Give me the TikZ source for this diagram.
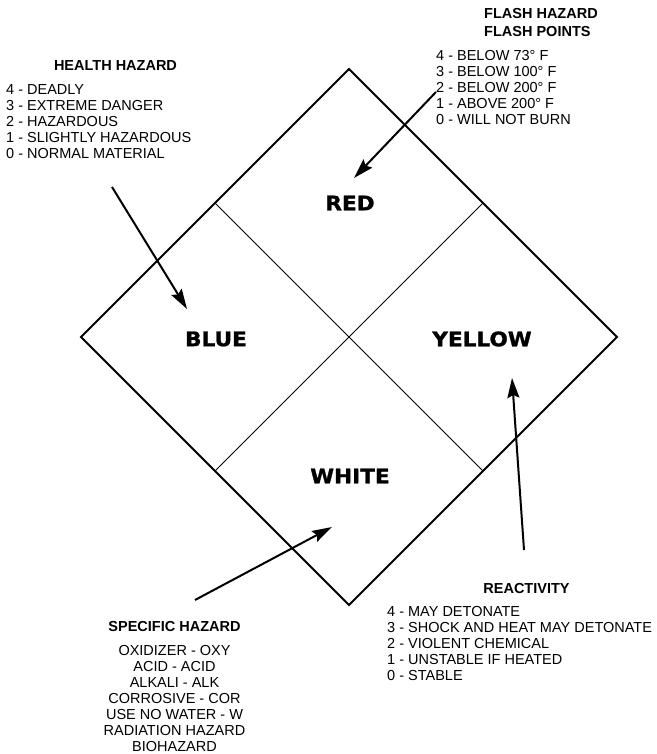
\documentclass[tikz,border=0pt]{standalone}
\usepackage{fontspec}
\setmainfont{Liberation Sans}
\newfontfamily\heavyfont{DejaVu Sans}[BoldFeatures={FakeStretch=1.08,FakeBold=1.2}]
\usetikzlibrary{arrows.meta,calc}
\tikzset{
  hzhead/.style={font=\fontsize{14.5}{16}\selectfont\bfseries, inner sep=0pt},
  hzline/.style={font=\fontsize{14.5}{16}\selectfont, inner sep=0pt},
  colourtag/.style={font=\heavyfont\bfseries\fontsize{20}{22}\selectfont, inner sep=0pt},
  pointer/.style={line width=2pt, -{Stealth[length=20pt,width=12pt,inset=3pt]}},
}
\begin{document}
\begin{tikzpicture}[x=1pt,y=1pt]
\path[use as bounding box] (0,0) rectangle (656,754);
% diamond
\coordinate (top) at (349,685);
\coordinate (lft) at (81,417);
\coordinate (rgt) at (617,417);
\coordinate (bot) at (349,149);
\coordinate (mtl) at ($(top)!0.5!(lft)$);
\coordinate (mtr) at ($(top)!0.5!(rgt)$);
\coordinate (mbl) at ($(bot)!0.5!(lft)$);
\coordinate (mbr) at ($(bot)!0.5!(rgt)$);
\draw[line width=1pt] (mtl) -- (mbr);
\draw[line width=1pt] (mtr) -- (mbl);
\draw[line width=2pt, line join=miter] (top) -- (rgt) -- (bot) -- (lft) -- cycle;
% colour fields
\node[colourtag] (red) at (350,551) {RED};
\node[colourtag] (blue) at (216,415) {BLUE};
\node[colourtag] (yellow) at (482,415) {YELLOW};
\node[colourtag] (white) at (350,278) {WHITE};
% health
\node[hzhead, anchor=base] (healthhead) at (115.5,683) {HEALTH HAZARD};
\foreach \txt [count=\i] in {4 - DEADLY, 3 - EXTREME DANGER, 2 - HAZARDOUS,
    1 - SLIGHTLY HAZARDOUS, 0 - NORMAL MATERIAL}
  \node[hzline, anchor=base west] (health\i) at (6,{675-16*\i}) {\txt};
% flash
\node[hzhead, anchor=base west] (flashhead) at (484,735) {FLASH HAZARD};
\node[hzhead, anchor=base west] (flashsub) at (484,717.5) {FLASH POINTS};
\foreach \txt [count=\i] in {4 - BELOW 73° F, 3 - BELOW 100° F, 2 - BELOW 200° F,
    1 - ABOVE 200° F, 0 - WILL NOT BURN}
  \node[hzline, anchor=base west] (flash\i) at (436,{709-16*\i}) {\txt};
% reactivity
\node[hzhead, anchor=base] (reacthead) at (526.5,160) {REACTIVITY};
\foreach \txt [count=\i] in {4 - MAY DETONATE, 3 - SHOCK AND HEAT MAY DETONATE,
    2 - VIOLENT CHEMICAL, 1 - UNSTABLE IF HEATED, 0 - STABLE}
  \node[hzline, anchor=base west] (react\i) at (387,{153-16*\i}) {\txt};
% specific
\node[hzhead, anchor=base] (spechead) at (174.5,122) {SPECIFIC HAZARD};
\foreach \txt [count=\i] in {OXIDIZER - OXY, ACID - ACID, ALKALI - ALK,
    CORROSIVE - COR, USE NO WATER - W, RADIATION HAZARD, BIOHAZARD}
  \node[hzline, anchor=base] (spec\i) at (174.5,{114-16*\i}) {\txt};
% pointers
\coordinate (healthtail) at (112,567);
\coordinate (healthtip) at (187,445);
\coordinate (flashtail) at (436,662);
\coordinate (flashtip) at (354,576);
\coordinate (reacttail) at (524,204);
\coordinate (reacttip) at (512,376);
\coordinate (spectail) at (195,154);
\coordinate (spectip) at (332,227);
\draw[pointer] (healthtail) -- (healthtip);
\draw[pointer] (flashtail) -- (flashtip);
\draw[pointer] (reacttail) -- (reacttip);
\draw[pointer] (spectail) -- (spectip);
\end{tikzpicture}
\end{document}
